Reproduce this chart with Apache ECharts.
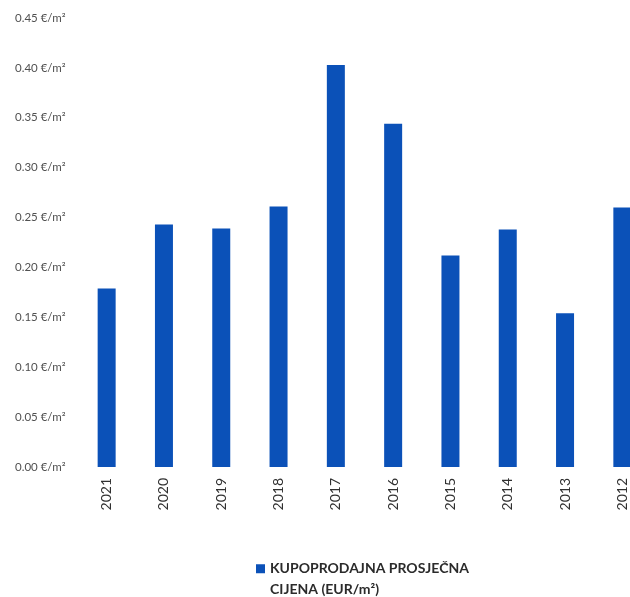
<!DOCTYPE html>
<html>
<head>
<meta charset="utf-8">
<script src="https://cdn.jsdelivr.net/npm/echarts@6/dist/echarts.min.js"></script>
<style>
  html, body { margin: 0; padding: 0; background: #fff; overflow: hidden; }
  /* graf je u originalu odrezan s desne strane */
  #chart { width: 651px; height: 597px; }
</style>
</head>
<body>
<div id="chart"></div>
<script>
// podaci s grafa
const years = ['2021', '2020', '2019', '2018', '2017', '2016', '2015', '2014', '2013', '2012'];
const prices = [0.179, 0.243, 0.239, 0.261, 0.403, 0.344, 0.212, 0.238, 0.154, 0.260];
const seriesName = 'KUPOPRODAJNA PROSJEČNA\nCIJENA (EUR/m²)';

const myChart = echarts.init(document.getElementById('chart'));
myChart.setOption({
    animation: false,
    grid: {
        left: 78,
        right: 0,
        top: 18,
        bottom: 130
    },
    legend: {
        data: [seriesName],
        left: 256,
        top: 538,
        padding: 0,
        itemWidth: 9,
        itemHeight: 9,
        icon: 'rect',
        // prazan prvi red da ikona stoji uz prvi red teksta
        formatter: function (name) {
            return '\n' + name
        },
        textStyle: {
            color: '#2b2b2b',
            fontFamily: 'Lato',
            fontWeight: 'bold',
            fontSize: 14,
            lineHeight: 20.5
        }
    },
    xAxis: {
        type: 'category',
        data: years,
        axisLine: { show: false },
        axisTick: { show: false },
        axisLabel: {
            rotate: 90,
            margin: 11,
            color: '#303030',
            fontFamily: 'Lato',
            fontSize: 14
        }
    },
    yAxis: {
        type: 'value',
        min: 0,
        max: 0.45,
        interval: 0.05,
        splitLine: { show: false },
        axisLine: { show: false },
        axisTick: { show: false },
        axisLabel: {
            align: 'left',
            margin: 63,
            color: '#505050',
            fontFamily: 'Lato',
            fontSize: 11.5,
            formatter: function (v) {
                return v.toFixed(2) + ' €/m²'
            }
        }
    },
    series: [{
        name: seriesName,
        type: 'bar',
        data: prices,
        barWidth: 18,
        itemStyle: { color: '#0b51b8' }
    }]
});
</script>
</body>
</html>
